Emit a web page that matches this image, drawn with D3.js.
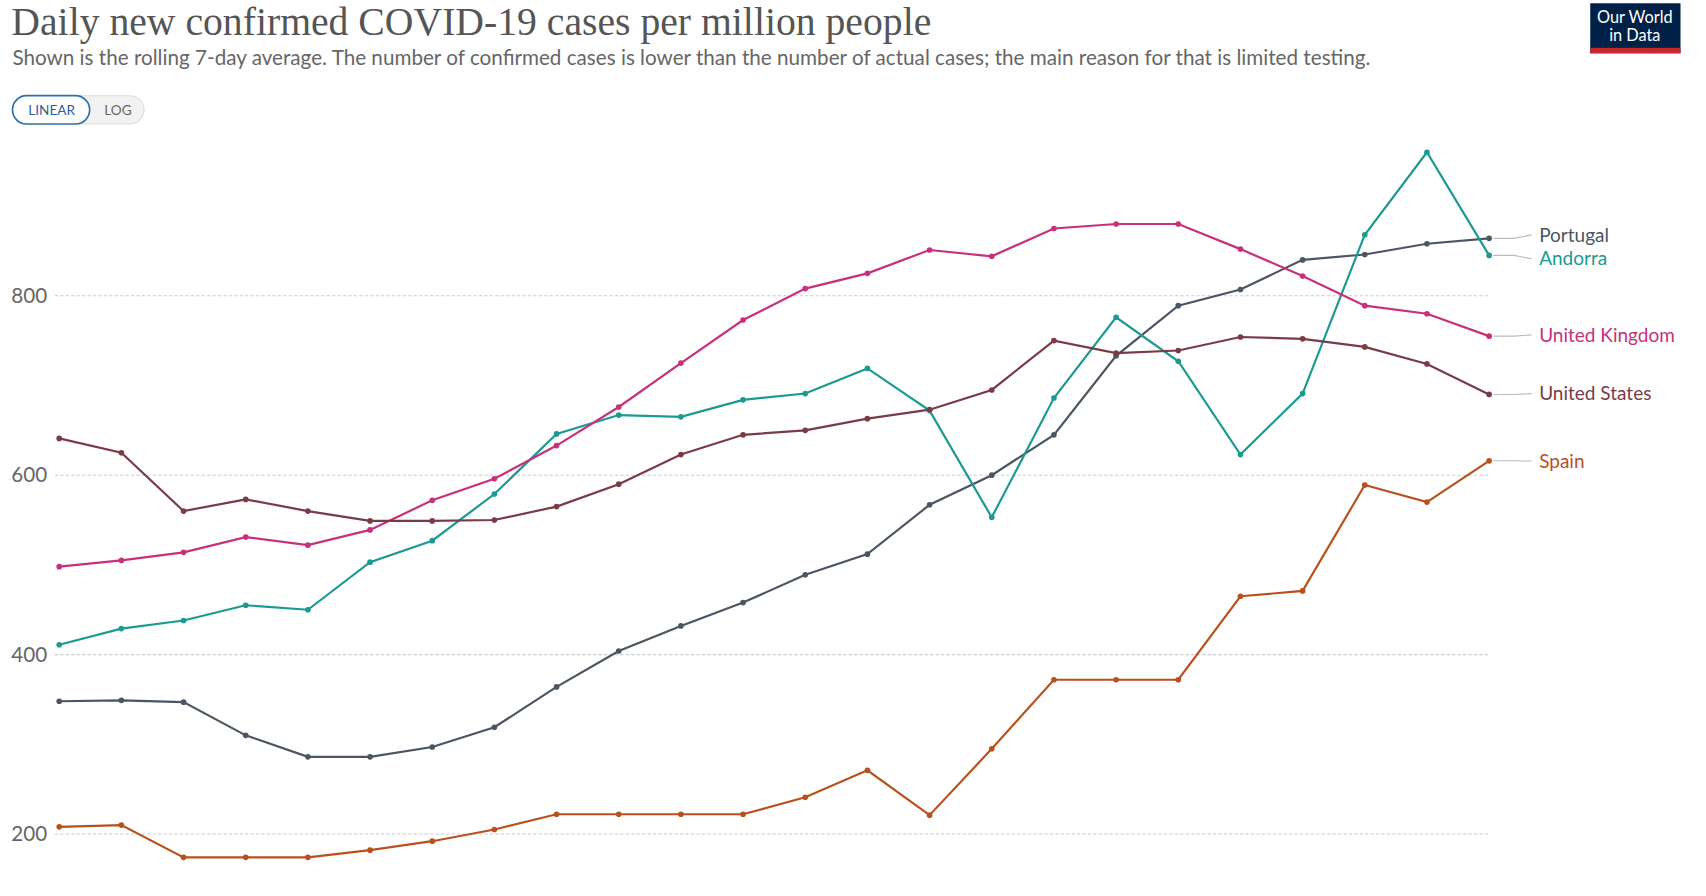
<!DOCTYPE html>
<html><head><meta charset="utf-8">
<script src="https://cdn.jsdelivr.net/npm/d3@7"></script>
<style>body{margin:0;background:#fff;} text{font-family:Lato,"Open Sans",sans-serif;}</style>
</head><body><div id="chart"></div>
<script>
var countries = ["Portugal", "Andorra", "United Kingdom", "United States", "Spain"];
var colors = ["#4b5563", "#1a9a92", "#c7307c", "#7a3b47", "#b9501d"];
var portugal = [348,349,347,310,286,286,297,319,364,404,432,458,489,512,567,600,645,733,789,807,840,846,858,864];
var andorra = [411,429,438,455,450,503,527,579,646,667,665,684,691,719,672,553,686,776,727,623,691,868,960,845];
var uk = [498,505,514,531,522,539,572,596,633,676,725,773,808,825,851,844,875,880,880,852,822,789,780,755];
var us = [641,625,560,573,560,549,549,550,565,590,623,645,650,663,673,695,750,736,739,754,752,743,724,690];
var spain = [208,210,174,174,174,182,192,205,222,222,222,222,241,271,221,295,372,372,372,465,471,589,570,616];
var labelY = [216, 238, 308, 362, 424];
var yTicks = [200, 400, 600, 800];

var series = [portugal, andorra, uk, us, spain];

var svg = d3.select("#chart").append("svg")
    .attr("width", 1706).attr("height", 896)
    .attr("viewBox", "0 0 1568 824");

var x = d3.scaleLinear().domain([0, portugal.length - 1]).range([54, 1369]);
var y = d3.scaleLinear().domain([200, 800]).range([767, 272]);

svg.append("text").attr("x", 10).attr("y", 32)
    .style("font-family", "'Liberation Serif', serif").style("font-size", "36.5px")
    .attr("fill", "#555").text("Daily new confirmed COVID-19 cases per million people");
svg.append("text").attr("x", 11).attr("y", 60)
    .style("font-size", "19px").attr("fill", "#666")
    .text("Shown is the rolling 7-day average. The number of confirmed cases is lower than the number of actual cases; the main reason for that is limited testing.");

// linear/log toggle
svg.append("rect").attr("x", 11).attr("y", 88).attr("width", 121).attr("height", 26).attr("rx", 13)
    .attr("fill", "#f2f2f2").attr("stroke", "#ddd");
svg.append("rect").attr("x", 11).attr("y", 88).attr("width", 71).attr("height", 26).attr("rx", 13)
    .attr("fill", "#fff").attr("stroke", "#2f6fa8").attr("stroke-width", 1.5);
svg.append("text").attr("x", 47).attr("y", 106).attr("text-anchor", "middle")
    .style("font-size", "12.5px").attr("fill", "#2f5f95").text("LINEAR");
svg.append("text").attr("x", 108).attr("y", 106).attr("text-anchor", "middle")
    .style("font-size", "12.5px").attr("fill", "#666").text("LOG");

// logo
svg.append("rect").attr("x", 1462).attr("y", 3).attr("width", 83).attr("height", 46).attr("fill", "#002147");
svg.append("rect").attr("x", 1462).attr("y", 44).attr("width", 83).attr("height", 5).attr("fill", "#c5282f");
svg.append("text").attr("x", 1503).attr("y", 21).attr("text-anchor", "middle")
    .style("font-size", "15px").attr("fill", "#fff").text("Our World");
svg.append("text").attr("x", 1503).attr("y", 38).attr("text-anchor", "middle")
    .style("font-size", "15px").attr("fill", "#fff").text("in Data");

// grid
var grid = svg.append("g").selectAll("g").data(yTicks).enter().append("g");
grid.append("line").attr("x1", 50).attr("x2", 1369)
    .attr("y1", d => y(d)).attr("y2", d => y(d))
    .attr("stroke", "#ccc").attr("stroke-dasharray", "3,2");
grid.append("text").attr("x", 10).attr("y", d => y(d)).attr("dy", "0.35em")
    .style("font-size", "19px").attr("fill", "#666").text(d => d);

var line = d3.line().x((d, i) => x(i)).y(d => y(d));

series.forEach(function(vals, k) {
    svg.append("path").datum(vals).attr("d", line)
        .attr("fill", "none").attr("stroke", colors[k]).attr("stroke-width", 2);
    svg.append("g").selectAll("circle").data(vals).enter().append("circle")
        .attr("cx", (d, i) => x(i)).attr("cy", d => y(d)).attr("r", 2.6).attr("fill", colors[k]);
    var last = vals[vals.length - 1];
    svg.append("path")
        .attr("d", "M" + (x(vals.length - 1) + 4) + "," + y(last) + "H1392L1408," + labelY[k])
        .attr("fill", "none").attr("stroke", "#bbb");
    svg.append("text").attr("x", 1415).attr("y", labelY[k]).attr("dy", "0.35em")
        .style("font-size", "17.5px").attr("fill", colors[k]).text(countries[k]);
});
</script></body></html>
